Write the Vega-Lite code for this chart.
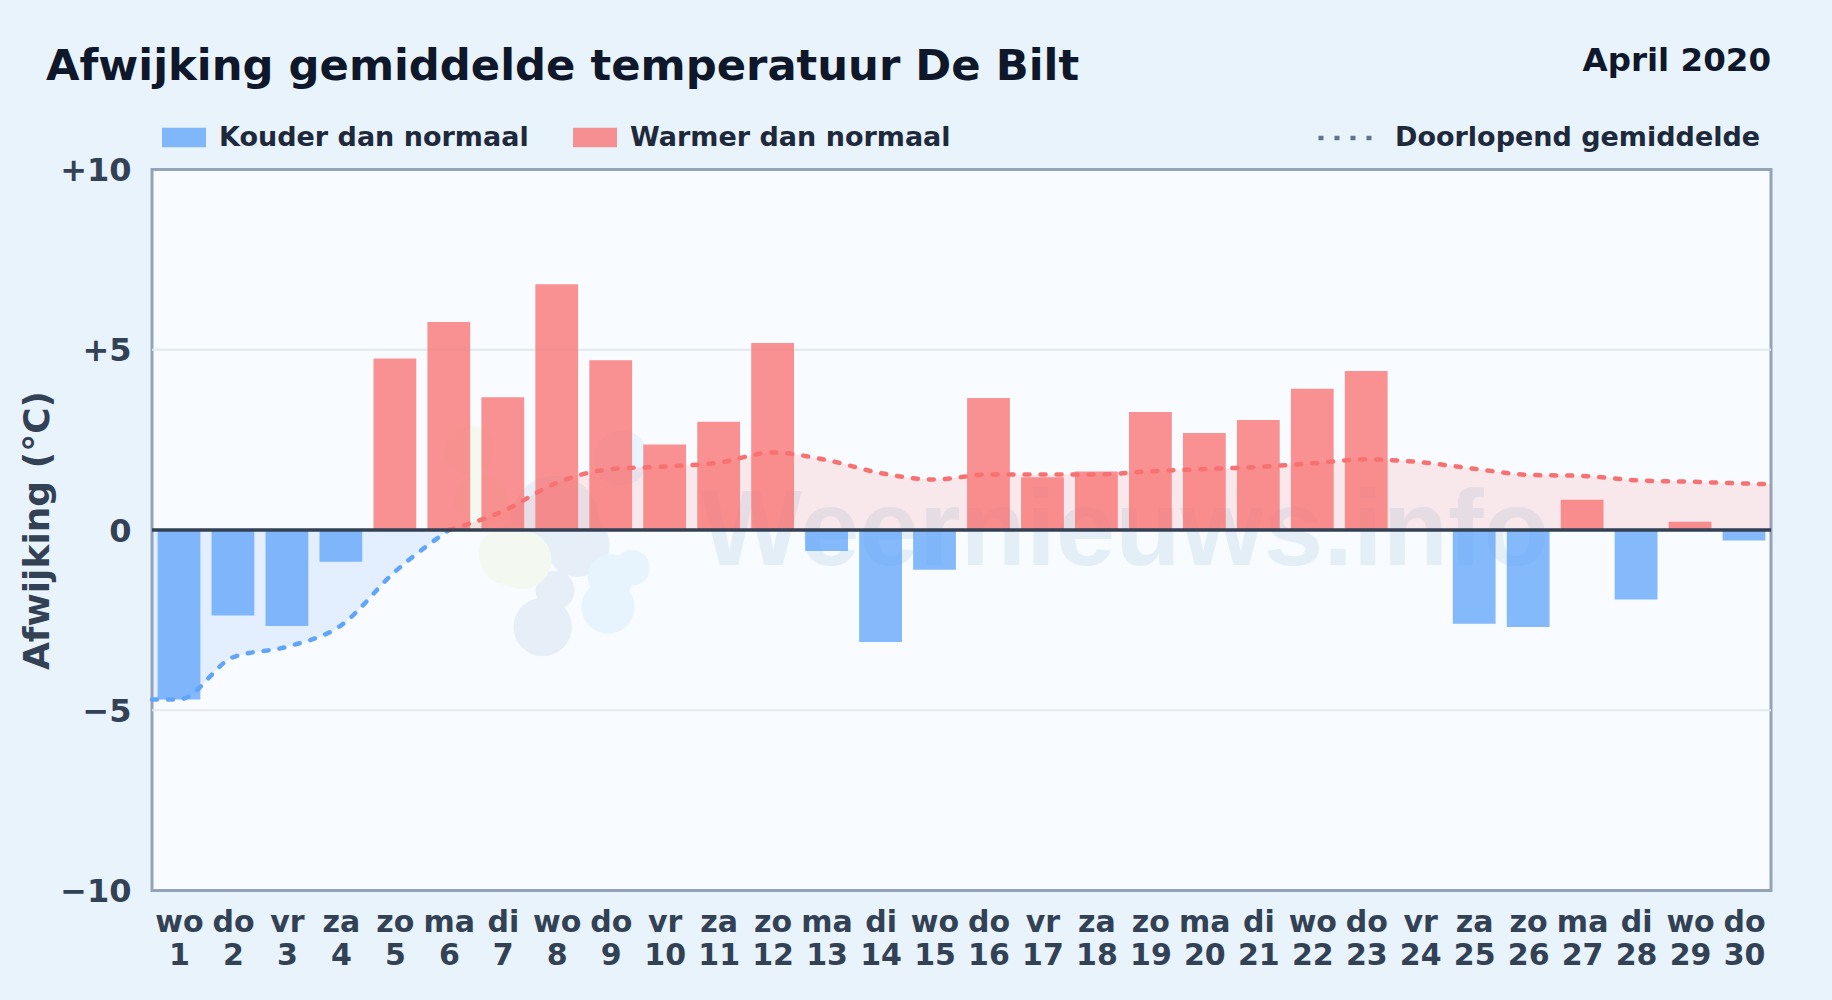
{"$schema":"https://vega.github.io/schema/vega-lite/v6.json","width":1619,"height":721,"autosize":{"type":"none"},"padding":{"left":152,"top":169.5,"right":61,"bottom":110},"background":"#e8f3fc","view":{"fill":"#f8fbff","stroke":"#94a3b8","strokeWidth":3},"title":{"text":"Afwijking gemiddelde temperatuur De Bilt","anchor":"start","frame":"group","font":"DejaVu Sans","fontWeight":"bold","fontSize":43.3,"color":"#0f172a","dx":-106,"dy":77.5,"offset":0,"baseline":"alphabetic"},"config":{"font":"DejaVu Sans"},"datasets":{"dagen":[{"dag":1,"afw":-4.7,"soort":"Kouder dan normaal"},{"dag":2,"afw":-2.37,"soort":"Kouder dan normaal"},{"dag":3,"afw":-2.66,"soort":"Kouder dan normaal"},{"dag":4,"afw":-0.88,"soort":"Kouder dan normaal"},{"dag":5,"afw":4.76,"soort":"Warmer dan normaal"},{"dag":6,"afw":5.77,"soort":"Warmer dan normaal"},{"dag":7,"afw":3.68,"soort":"Warmer dan normaal"},{"dag":8,"afw":6.82,"soort":"Warmer dan normaal"},{"dag":9,"afw":4.71,"soort":"Warmer dan normaal"},{"dag":10,"afw":2.37,"soort":"Warmer dan normaal"},{"dag":11,"afw":3.0,"soort":"Warmer dan normaal"},{"dag":12,"afw":5.19,"soort":"Warmer dan normaal"},{"dag":13,"afw":-0.58,"soort":"Kouder dan normaal"},{"dag":14,"afw":-3.11,"soort":"Kouder dan normaal"},{"dag":15,"afw":-1.1,"soort":"Kouder dan normaal"},{"dag":16,"afw":3.66,"soort":"Warmer dan normaal"},{"dag":17,"afw":1.46,"soort":"Warmer dan normaal"},{"dag":18,"afw":1.62,"soort":"Warmer dan normaal"},{"dag":19,"afw":3.27,"soort":"Warmer dan normaal"},{"dag":20,"afw":2.69,"soort":"Warmer dan normaal"},{"dag":21,"afw":3.05,"soort":"Warmer dan normaal"},{"dag":22,"afw":3.92,"soort":"Warmer dan normaal"},{"dag":23,"afw":4.41,"soort":"Warmer dan normaal"},{"dag":25,"afw":-2.6,"soort":"Kouder dan normaal"},{"dag":26,"afw":-2.69,"soort":"Kouder dan normaal"},{"dag":27,"afw":0.84,"soort":"Warmer dan normaal"},{"dag":28,"afw":-1.93,"soort":"Kouder dan normaal"},{"dag":29,"afw":0.23,"soort":"Warmer dan normaal"},{"dag":30,"afw":-0.29,"soort":"Kouder dan normaal"}],"koud":[{"dag":0.5,"gem":-4.7},{"dag":1,"gem":-4.7},{"dag":2,"gem":-3.53},{"dag":3,"gem":-3.24},{"dag":4,"gem":-2.65},{"dag":5,"gem":-1.16},{"dag":6,"gem":0}],"warm":[{"dag":6,"gem":0},{"dag":7,"gem":0.52},{"dag":8,"gem":1.31},{"dag":9,"gem":1.69},{"dag":10,"gem":1.76},{"dag":11,"gem":1.87},{"dag":12,"gem":2.15},{"dag":13,"gem":1.94},{"dag":14,"gem":1.58},{"dag":15,"gem":1.4},{"dag":16,"gem":1.54},{"dag":17,"gem":1.54},{"dag":18,"gem":1.54},{"dag":19,"gem":1.63},{"dag":20,"gem":1.69},{"dag":21,"gem":1.75},{"dag":22,"gem":1.85},{"dag":23,"gem":1.96},{"dag":24,"gem":1.88},{"dag":25,"gem":1.7},{"dag":26,"gem":1.53},{"dag":27,"gem":1.5},{"dag":28,"gem":1.38},{"dag":29,"gem":1.34},{"dag":30,"gem":1.29},{"dag":30.5,"gem":1.27}],"logo":[{"dag":7.74,"y":-2.69,"r":3400,"kleur":"#e6eff8"},{"dag":7.97,"y":-1.67,"r":1520,"kleur":"#e6eff8"},{"dag":8.39,"y":-0.42,"r":4070,"kleur":"#e6eff8"},{"dag":7.97,"y":0.28,"r":7800,"kleur":"#e6eff8"},{"dag":8.95,"y":-2.14,"r":2800,"kleur":"#e7f3fd"},{"dag":9.0,"y":-1.3,"r":2100,"kleur":"#e7f3fd"},{"dag":9.39,"y":-1.05,"r":1260,"kleur":"#e7f3fd"},{"dag":9.2,"y":2.0,"r":3000,"kleur":"#e7f3fd"},{"dag":7.13,"y":-0.69,"r":3800,"kleur":"#f3f8f0"},{"dag":7.36,"y":-0.83,"r":3420,"kleur":"#f3f8f0"},{"dag":6.39,"y":2.2,"r":2500,"kleur":"#f3f8f0"},{"dag":6.6,"y":0.8,"r":3000,"kleur":"#f3f8f0"}],"raster":[{"y":-5},{"y":5}]},"layer":[{"data":{"name":"raster"},"mark":{"type":"rule","color":"#e2e8f0","strokeWidth":2},"encoding":{"y":{"field":"y","type":"quantitative"}}},{"data":{"name":"logo"},"mark":{"type":"point","filled":true,"shape":"circle","opacity":1},"encoding":{"x":{"field":"dag","type":"quantitative"},"y":{"field":"y","type":"quantitative"},"size":{"field":"r","type":"quantitative","scale":null},"color":{"field":"kleur","type":"nominal","scale":null}}},{"data":{"values":[{"dag":10.67,"y":-0.97,"t":"Weernieuws.info"}]},"mark":{"type":"text","font":"Liberation Sans","fontWeight":"bold","fontSize":107,"color":"#3a83b9","opacity":0.1,"align":"left","baseline":"alphabetic"},"encoding":{"x":{"field":"dag","type":"quantitative"},"y":{"field":"y","type":"quantitative"},"text":{"field":"t"}}},{"data":{"name":"koud"},"mark":{"type":"area","interpolate":"monotone","color":"#60a5fa","opacity":0.14},"encoding":{"x":{"field":"dag","type":"quantitative"},"y":{"field":"gem","type":"quantitative"}}},{"data":{"name":"warm"},"mark":{"type":"area","interpolate":"monotone","color":"#f87171","opacity":0.14},"encoding":{"x":{"field":"dag","type":"quantitative"},"y":{"field":"gem","type":"quantitative"}}},{"data":{"name":"dagen"},"mark":{"type":"bar","width":42.8},"encoding":{"x":{"field":"dag","type":"quantitative","scale":{"domain":[0.5,30.5],"nice":false,"zero":false,"padding":0},"axis":{"values":[1,2,3,4,5,6,7,8,9,10,11,12,13,14,15,16,17,18,19,20,21,22,23,24,25,26,27,28,29,30],"title":null,"grid":false,"domain":false,"ticks":false,"labelFont":"DejaVu Sans","labelFontWeight":"bold","labelFontSize":30,"labelColor":"#334155","labelPadding":17,"labelBaseline":"top","labelLineHeight":33,"labelOverlap":false,"labelFlush":false,"labelExpr":"[['wo','do','vr','za','zo','ma','di'][(datum.value+6)%7],''+datum.value]"}},"y":{"field":"afw","type":"quantitative","scale":{"domain":[-10,10],"nice":false},"axis":{"values":[-10,-5,0,5,10],"title":"Afwijking (°C)","titleFont":"DejaVu Sans","titleFontWeight":"bold","titleFontSize":36,"titleColor":"#334155","titlePadding":3,"grid":false,"domain":false,"ticks":false,"labelFont":"DejaVu Sans","labelFontWeight":"bold","labelFontSize":32,"labelColor":"#334155","labelPadding":21,"labelOffset":1,"labelExpr":"datum.value>0?'+'+datum.value:datum.value<0?'−'+abs(datum.value):'0'"}},"color":{"field":"soort","type":"nominal","scale":{"domain":["Kouder dan normaal","Warmer dan normaal"],"range":["rgba(96,165,250,0.77)","rgba(248,113,113,0.77)"]},"legend":{"title":null,"orient":"none","legendX":10,"legendY":-54,"direction":"horizontal","columns":2,"labelFont":"DejaVu Sans","labelFontWeight":"bold","labelFontSize":27,"labelColor":"#1e293b","symbolType":"M-1,-0.44H1V0.44H-1Z","symbolSize":1936,"symbolStrokeWidth":0,"columnPadding":44,"labelOffset":13,"labelLimit":400}}}},{"data":{"name":"koud"},"mark":{"type":"line","interpolate":"monotone","stroke":"#60a5fa","strokeWidth":4.5,"strokeCap":"round","strokeDash":[5,11]},"encoding":{"x":{"field":"dag","type":"quantitative"},"y":{"field":"gem","type":"quantitative"}}},{"data":{"name":"warm"},"mark":{"type":"line","interpolate":"monotone","stroke":"#f87171","strokeWidth":4.5,"strokeCap":"round"},"encoding":{"x":{"field":"dag","type":"quantitative"},"y":{"field":"gem","type":"quantitative"},"strokeDash":{"datum":"Doorlopend gemiddelde","scale":{"domain":["Doorlopend gemiddelde"],"range":[[5,11]]},"legend":{"title":null,"orient":"none","legendX":1164,"legendY":-61,"labelFont":"DejaVu Sans","labelFontWeight":"bold","labelFontSize":27,"labelColor":"#1e293b","symbolType":"stroke","symbolStrokeColor":"#64748b","symbolStrokeWidth":4.5,"symbolSize":2916,"labelOffset":20,"labelLimit":500}}}},{"data":{"values":[{"y":0}]},"mark":{"type":"rule","color":"#334155","strokeWidth":3.5},"encoding":{"y":{"field":"y","type":"quantitative"}}},{"data":{"values":[{"dag":30.5,"y":13.0,"t":"April 2020"}]},"mark":{"type":"text","font":"DejaVu Sans","fontWeight":"bold","fontSize":32.5,"color":"#0f172a","align":"right","baseline":"middle"},"encoding":{"x":{"field":"dag","type":"quantitative"},"y":{"field":"y","type":"quantitative"},"text":{"field":"t"}}}]}
